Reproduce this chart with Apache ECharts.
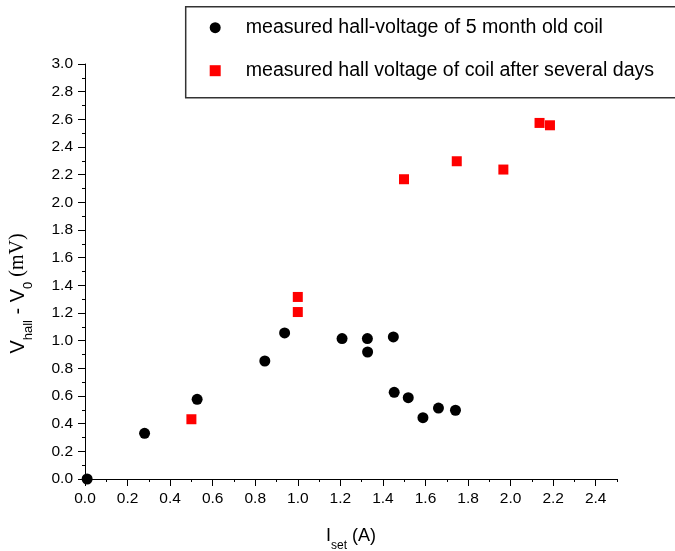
<!DOCTYPE html>
<html>
<head>
<meta charset="utf-8">
<title>Hall voltage vs set current</title>
<script src="https://cdn.jsdelivr.net/npm/echarts@6/dist/echarts.min.js"></script>
<style>
  html, body { margin: 0; padding: 0; background: #fff; }
  #chart { width: 675px; height: 551px; }
</style>
</head>
<body>
<div id="chart"></div>
<script>
// Hall voltage offsets (mV) against set current (A)
const oldCoilName = 'measured hall-voltage of 5 month old coil';
const newCoilName = 'measured hall voltage of coil after several days';

const oldCoilCurrent = [0.01, 0.28, 0.527, 0.845, 0.938, 1.208, 1.327, 1.328, 1.449, 1.453, 1.519, 1.588, 1.661, 1.741];
const oldCoilVoltage = [0.00, 0.33, 0.576, 0.853, 1.056, 1.015, 1.015, 0.918, 1.027, 0.627, 0.588, 0.443, 0.513, 0.497];

const newCoilCurrent = [0.50, 1.00, 1.00, 1.499, 1.747, 1.966, 2.136, 2.185];
const newCoilVoltage = [0.432, 1.316, 1.207, 2.167, 2.297, 2.237, 2.574, 2.557];

const xMajorTicks = [0, 0.2, 0.4, 0.6, 0.8, 1.0, 1.2, 1.4, 1.6, 1.8, 2.0, 2.2, 2.4];

const FONT = '"Liberation Sans", Arial, sans-serif';
const SERIF = '"Liberation Serif", "Times New Roman", serif';

function pairs(xs, ys) {
  return xs.map((x, i) => [x, ys[i]]);
}

const chart = echarts.init(document.getElementById('chart'), null, { renderer: 'canvas' });

const xTitleRich = {
  m: { fontSize: 18, lineHeight: 32, fontFamily: FONT, color: '#000' },
  s: { fontSize: 12, lineHeight: 12, verticalAlign: 'bottom', fontFamily: FONT, color: '#000' }
};

const yTitleRich = {
  m: { fontSize: 20, lineHeight: 34, fontFamily: FONT, color: '#000' },
  s: { fontSize: 13, lineHeight: 13, verticalAlign: 'bottom', fontFamily: FONT, color: '#000' },
  u: { fontSize: 20, lineHeight: 34, fontFamily: SERIF, color: '#000' }
};

chart.setOption({
  animation: false,
  backgroundColor: '#fff',
  grid: { left: 85, right: 58, top: 64, bottom: 72, outerBoundsMode: 'none', containLabel: false },
  legend: {
    orient: 'vertical',
    left: 185.7,
    top: 6.7,
    padding: [10, 60, 16, 24],
    itemGap: 21,
    itemWidth: 11,
    itemHeight: 11,
    borderColor: '#333',
    borderWidth: 1.5,
    selectedMode: false,
    textStyle: { fontSize: 19.6, lineHeight: 22, padding: [0, 0, 0, 20], fontFamily: FONT, color: '#000' },
    data: [
      { name: oldCoilName, icon: 'circle' },
      { name: newCoilName, icon: 'path://M0,0h10v10h-10z' }
    ]
  },
  xAxis: [
    {
      type: 'value',
      min: 0,
      max: 2.5,
      interval: 0.1,
      splitLine: { show: false },
      axisLine: { show: true, onZero: false, lineStyle: { color: '#000', width: 1 } },
      axisTick: { show: true, length: 3, lineStyle: { color: '#000' } },
      axisLabel: {
        customValues: xMajorTicks,
        margin: 12,
        fontSize: 15.5,
        fontFamily: FONT,
        color: '#000',
        formatter: v => v.toFixed(1)
      },
      name: '{m|I}{s|set}{m| (A)}',
      nameLocation: 'middle',
      nameGap: 41,
      nameTextStyle: { rich: xTitleRich }
    },
    {
      type: 'value',
      min: 0,
      max: 2.5,
      interval: 0.2,
      position: 'bottom',
      splitLine: { show: false },
      axisLine: { show: false },
      axisTick: { show: true, length: 7, customValues: xMajorTicks, lineStyle: { color: '#000' } },
      axisLabel: { show: false }
    }
  ],
  yAxis: {
    type: 'value',
    min: 0,
    max: 3,
    interval: 0.2,
    splitLine: { show: false },
    axisLine: { show: true, onZero: false, lineStyle: { color: '#000', width: 1 } },
    axisTick: { show: true, length: 7, lineStyle: { color: '#000' } },
    minorTick: { show: true, splitNumber: 2, length: 3, lineStyle: { color: '#000' } },
    axisLabel: {
      margin: 12,
      fontSize: 15.5,
      fontFamily: FONT,
      color: '#000',
      formatter: v => v.toFixed(1)
    },
    name: '{m|V}{s|hall}{m| - V}{s|0}{u| (mV)}',
    nameLocation: 'middle',
    nameGap: 50,
    nameTextStyle: { rich: yTitleRich, padding: [0, 44, 0, 0] }
  },
  series: [
    {
      name: oldCoilName,
      type: 'scatter',
      xAxisIndex: 0,
      symbol: 'circle',
      symbolSize: 11,
      itemStyle: { color: '#000', opacity: 1 },
      data: pairs(oldCoilCurrent, oldCoilVoltage)
    },
    {
      name: newCoilName,
      type: 'scatter',
      xAxisIndex: 0,
      symbol: 'rect',
      symbolSize: 10,
      itemStyle: { color: '#ff0000', opacity: 1 },
      data: pairs(newCoilCurrent, newCoilVoltage)
    }
  ]
});
</script>
</body>
</html>
